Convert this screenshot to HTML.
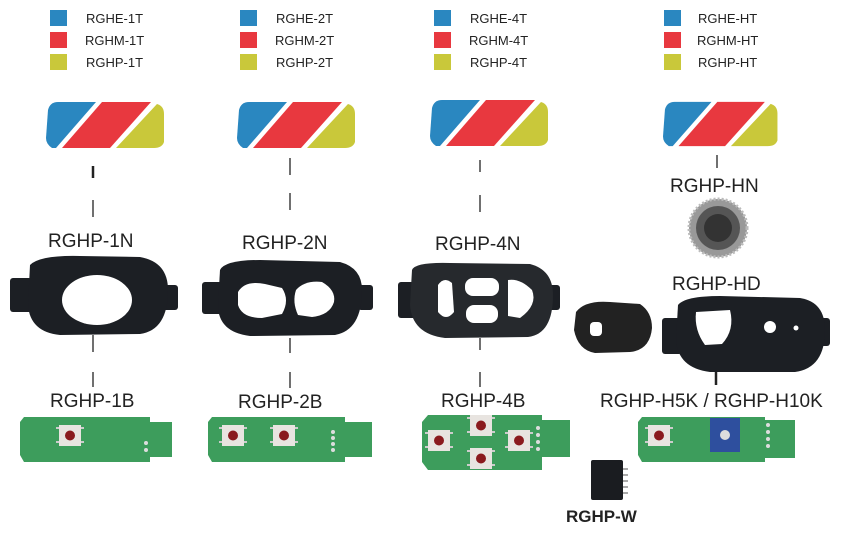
<!DOCTYPE html>
<html><head><style>
body{margin:0;background:#fff;}
svg text{font-family:"Liberation Sans",sans-serif;fill:#222;}
</style></head><body>
<svg width="857" height="528" viewBox="0 0 857 528" xmlns="http://www.w3.org/2000/svg">
<defs>
<g id="tri">
  <path d="M2,10 Q4,2 12,2 L50,2 L10,48 L6,48 Q0,44 0,38 Z" fill="#2a87c0"/>
  <path d="M56,2 L105,2 L64,48 L16,48 Z" fill="#e8383f"/>
  <path d="M111,4 Q118,6 118,14 L118,42 Q116,48 108,48 L70,48 Z" fill="#c9c83a"/>
</g>
<g id="btn">
  <rect x="-3" y="2" width="4" height="2" fill="#ccc"/><rect x="-3" y="16" width="4" height="2" fill="#ccc"/>
  <rect x="21" y="2" width="4" height="2" fill="#ccc"/><rect x="21" y="16" width="4" height="2" fill="#ccc"/>
  <rect x="0" y="0" width="22" height="21" fill="#e8e4e0"/>
  <circle cx="11" cy="10.5" r="5" fill="#8a1a1e"/>
</g>
</defs>
<g font-size="13">
<rect x="50" y="10" width="17" height="16" fill="#2a87c0"/><text x="86" y="23">RGHE-1T</text>
<rect x="50" y="32" width="17" height="16" fill="#e8383f"/><text x="85" y="45">RGHM-1T</text>
<rect x="50" y="54" width="17" height="16" fill="#c9c83a"/><text x="86" y="67">RGHP-1T</text>
<rect x="240" y="10" width="17" height="16" fill="#2a87c0"/><text x="276" y="23">RGHE-2T</text>
<rect x="240" y="32" width="17" height="16" fill="#e8383f"/><text x="275" y="45">RGHM-2T</text>
<rect x="240" y="54" width="17" height="16" fill="#c9c83a"/><text x="276" y="67">RGHP-2T</text>
<rect x="434" y="10" width="17" height="16" fill="#2a87c0"/><text x="470" y="23">RGHE-4T</text>
<rect x="434" y="32" width="17" height="16" fill="#e8383f"/><text x="469" y="45">RGHM-4T</text>
<rect x="434" y="54" width="17" height="16" fill="#c9c83a"/><text x="470" y="67">RGHP-4T</text>
<rect x="664" y="10" width="17" height="16" fill="#2a87c0"/><text x="698" y="23">RGHE-HT</text>
<rect x="664" y="32" width="17" height="16" fill="#e8383f"/><text x="697" y="45">RGHM-HT</text>
<rect x="664" y="54" width="17" height="16" fill="#c9c83a"/><text x="698" y="67">RGHP-HT</text>
</g>
<use href="#tri" transform="translate(46,100)"/>
<use href="#tri" transform="translate(237,100)"/>
<use href="#tri" transform="translate(430,98)"/>
<use href="#tri" transform="translate(663,100) scale(0.97,0.96)"/>
<g stroke="#222" stroke-width="1.3">
<line x1="93" y1="166" x2="93" y2="178" stroke-width="2.5"/><line x1="93" y1="200" x2="93" y2="217"/>
<line x1="290" y1="158" x2="290" y2="175"/><line x1="290" y1="193" x2="290" y2="210"/>
<line x1="480" y1="160" x2="480" y2="172"/><line x1="480" y1="195" x2="480" y2="212"/>
<line x1="717" y1="155" x2="717" y2="168"/>
<line x1="93" y1="335" x2="93" y2="352"/><line x1="93" y1="372" x2="93" y2="387"/>
<line x1="290" y1="338" x2="290" y2="353"/><line x1="290" y1="372" x2="290" y2="388"/>
<line x1="480" y1="338" x2="480" y2="350"/><line x1="480" y1="372" x2="480" y2="387"/>
<line x1="716" y1="372" x2="716" y2="385" stroke-width="2.5"/>
</g>
<g font-size="19">
<text x="48" y="247">RGHP-1N</text><text x="242" y="249">RGHP-2N</text><text x="435" y="250">RGHP-4N</text>
<text x="670" y="192">RGHP-HN</text><text x="672" y="290">RGHP-HD</text>
<text x="50" y="407">RGHP-1B</text><text x="238" y="408">RGHP-2B</text><text x="441" y="407">RGHP-4B</text>
<text x="600" y="407">RGHP-H5K / RGHP-H10K</text>
</g>
<text x="566" y="522" font-size="17" font-weight="bold">RGHP-W</text>
<!-- covers -->
<g fill="#1c1f24">
<rect x="10" y="278" width="22" height="34" rx="3"/><rect x="160" y="285" width="18" height="25" rx="3"/>
<path d="M30,265 Q40,255 80,256 L140,257 Q168,262 168,290 Q168,330 140,334 L60,335 Q30,332 28,305 Z"/>
<rect x="202" y="282" width="22" height="32" rx="3"/><rect x="358" y="285" width="15" height="25" rx="3"/>
<path d="M220,270 Q225,260 260,260 L340,262 Q362,268 362,290 Q362,330 335,335 L250,336 Q218,332 218,305 Z"/>
<rect x="398" y="282" width="18" height="36" rx="3"/><rect x="548" y="285" width="12" height="25" rx="3"/>
<path d="M412,270 Q415,262 450,263 L530,264 Q553,270 553,295 Q553,334 528,337 L445,338 Q412,334 410,305 Z" fill="#26292d"/>
<path d="M576,312 Q585,300 610,302 L640,304 Q652,312 652,328 Q650,350 630,352 L595,353 Q578,350 574,330 Z" fill="#222"/>
<rect x="662" y="318" width="20" height="36" rx="3"/><rect x="818" y="318" width="12" height="28" rx="3"/>
<path d="M678,305 Q685,296 720,296 L800,298 Q825,302 825,330 Q825,368 795,372 L710,372 Q678,368 676,340 Z"/>
</g>
<g fill="#fff">
<ellipse cx="97" cy="300" rx="35" ry="25"/>
<path d="M238,292 Q245,280 265,284 L282,288 Q290,300 282,314 L262,318 Q242,318 238,305 Z"/>
<path d="M296,290 Q305,280 322,282 Q336,290 334,302 Q330,315 312,317 L298,315 Q292,302 296,290 Z"/>
<path d="M438,285 Q444,276 452,283 L454,312 Q446,322 438,312 Z"/>
<rect x="465" y="278" width="34" height="18" rx="8"/>
<rect x="466" y="305" width="32" height="18" rx="8"/>
<path d="M508,280 Q520,278 532,290 Q538,305 520,318 L508,316 Z"/>
<rect x="590" y="322" width="12" height="14" rx="4"/>
<path d="M696,312 L730,310 Q735,330 722,344 L705,345 Q694,330 696,312 Z"/>
<circle cx="770" cy="327" r="6"/><circle cx="796" cy="328" r="2.5"/>
</g>
<!-- dial -->
<circle cx="718" cy="228" r="29" fill="#999" stroke="#bbb" stroke-width="3" stroke-dasharray="2 2"/>
<circle cx="718" cy="228" r="22" fill="#555"/>
<circle cx="718" cy="228" r="14" fill="#333"/>
<!-- PCBs -->
<g fill="#3d9d5c">
<path d="M24,417 L150,417 L150,422 L172,422 L172,457 L150,457 L150,462 L24,462 L20,455 L20,422 Z"/>
<path d="M212,417 L345,417 L345,422 L372,422 L372,457 L345,457 L345,462 L212,462 L208,455 L208,422 Z"/>
<path d="M428,415 L542,415 L542,420 L570,420 L570,457 L542,457 L542,470 L428,470 L422,462 L422,422 Z"/>
<path d="M642,417 L765,417 L765,420 L795,420 L795,458 L765,458 L765,462 L642,462 L638,455 L638,422 Z"/>
</g>
<use href="#btn" transform="translate(59,425)"/>
<use href="#btn" transform="translate(222,425)"/>
<use href="#btn" transform="translate(273,425)"/>
<use href="#btn" transform="translate(470,415)"/>
<use href="#btn" transform="translate(428,430)"/>
<use href="#btn" transform="translate(508,430)"/>
<use href="#btn" transform="translate(470,448)"/>
<use href="#btn" transform="translate(648,425)"/>
<rect x="710" y="418" width="30" height="34" fill="#2e4f9e"/>
<circle cx="725" cy="435" r="5" fill="#ddd"/>
<g fill="#ddd"><circle cx="146" cy="443" r="2"/><circle cx="146" cy="450" r="2"/>
<circle cx="333" cy="432" r="2"/><circle cx="333" cy="438" r="2"/><circle cx="333" cy="444" r="2"/><circle cx="333" cy="450" r="2"/>
<circle cx="538" cy="428" r="2"/><circle cx="538" cy="435" r="2"/><circle cx="538" cy="442" r="2"/><circle cx="538" cy="449" r="2"/>
<circle cx="768" cy="425" r="2"/><circle cx="768" cy="432" r="2"/><circle cx="768" cy="439" r="2"/><circle cx="768" cy="446" r="2"/></g>
<!-- RGHP-W -->
<rect x="591" y="460" width="32" height="40" rx="2" fill="#1a1c20"/>
<g fill="#aaa"><rect x="623" y="468" width="5" height="2"/><rect x="623" y="474" width="5" height="2"/><rect x="623" y="480" width="5" height="2"/><rect x="623" y="486" width="5" height="2"/><rect x="623" y="492" width="5" height="2"/></g>
</svg>
</body></html>
